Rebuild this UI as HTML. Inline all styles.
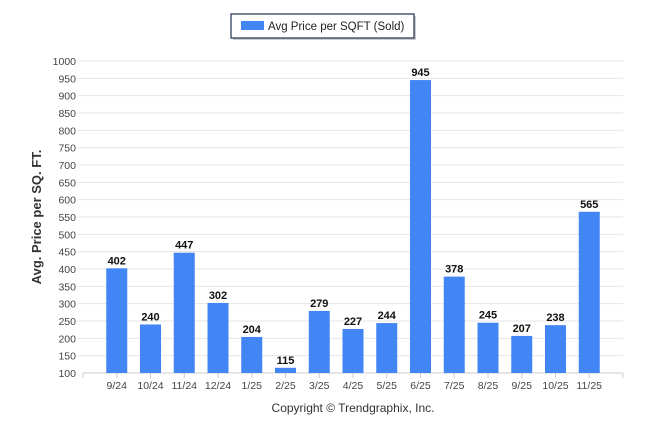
<!DOCTYPE html>
<html><head><meta charset="utf-8"><style>body{margin:0;background:#fff}svg{display:block;font-family:"Liberation Sans",sans-serif}</style></head><body>
<svg width="646" height="434" viewBox="0 0 646 434">
<rect x="233" y="16" width="183" height="24" fill="#999" opacity="0.5"/>
<rect x="231" y="14" width="183" height="24" fill="#fff" stroke="#1f2f4f" stroke-width="1.2"/>
<rect x="241" y="21" width="23" height="9" fill="#4285f4"/>
<text x="268" y="30" font-size="11.5" fill="#222">Avg Price per SQFT (Sold)</text>
<g id="grid" stroke="#e6e6e6" stroke-width="1"></g>
<g id="yl" font-size="10.5" fill="#444" text-anchor="end"></g>
<line x1="83" y1="373" x2="623" y2="373" stroke="#ccc"/>
<g id="bars"></g>
<text transform="translate(41,217) rotate(-90)" text-anchor="middle" font-size="13" font-weight="bold" fill="#333">Avg. Price per SQ. FT.</text>
<text x="353" y="412" text-anchor="middle" font-size="12" fill="#333">Copyright © Trendgraphix, Inc.</text>
</svg>
<script>
var ns="http://www.w3.org/2000/svg";function el(p,t,a,tx){var e=document.createElementNS(ns,t);for(var k in a)e.setAttribute(k,a[k]);if(tx!=null)e.textContent=tx;document.getElementById(p).appendChild(e);}
function Y(v){return 373-(v-100)*312/900;}
for(var v=100;v<=1000;v+=50){var y=Y(v);if(v>100)el("grid","line",{x1:78,x2:623,y1:y,y2:y});el("yl","text",{x:76,y:y+4},v);}
var d=[["9/24",402],["10/24",240],["11/24",447],["12/24",302],["1/25",204],["2/25",115],["3/25",279],["4/25",227],["5/25",244],["6/25",945],["7/25",378],["8/25",245],["9/25",207],["10/25",238],["11/25",565]];
var w=(623-83)/16;
for(var i=0;i<=16;i++){var x=83+i*w;el("bars","line",{x1:x,x2:x,y1:373,y2:378,stroke:"#ccc"});}
d.forEach(function(b,i){var c=83+(i+1)*w,y=Y(b[1]);el("bars","rect",{x:c-10.5,y:y,width:21,height:373-y,fill:"#4285f4"});
el("bars","text",{x:c,y:y-4,"text-anchor":"middle","font-size":"11","font-weight":"bold",fill:"#111"},b[1]);
el("bars","text",{x:c,y:389,"text-anchor":"middle","font-size":"10.5",fill:"#444"},b[0]);});
</script>
</body></html>
